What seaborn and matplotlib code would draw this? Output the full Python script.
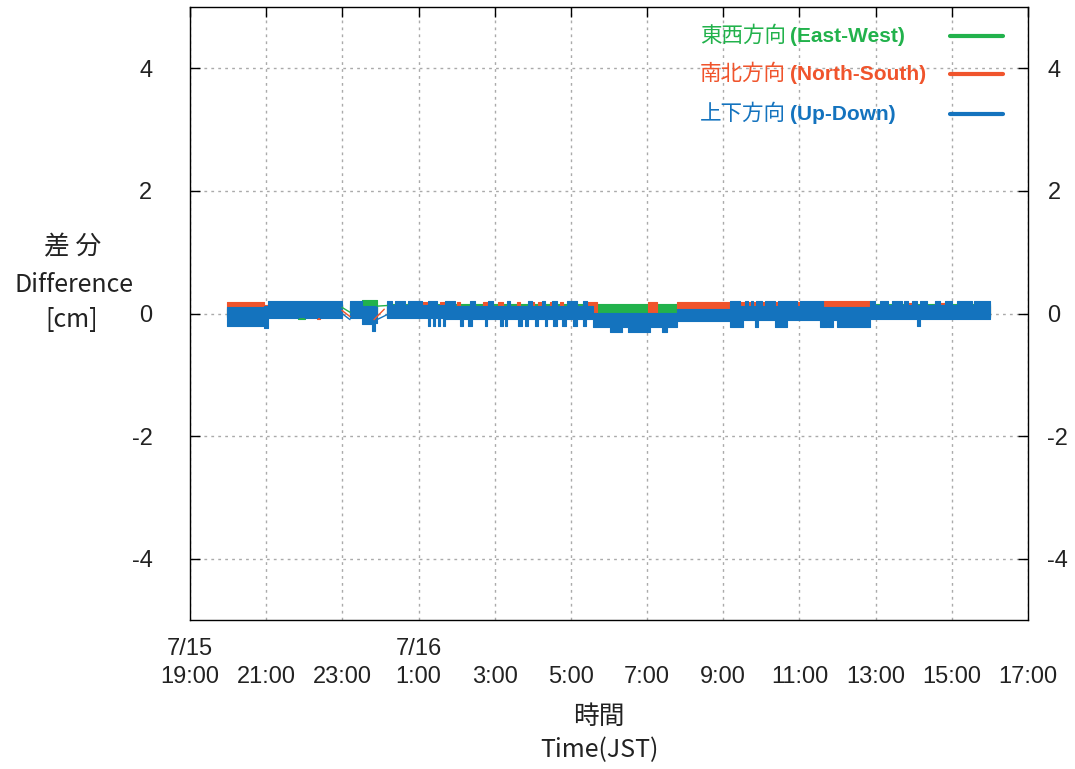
import numpy as np
import pandas as pd
import matplotlib
matplotlib.use("Agg")
import matplotlib.pyplot as plt
from matplotlib.lines import Line2D
import seaborn as sns

# ---------------- data (hours after 7/15 19:00 JST, cm) ----------------
nan = np.nan
series_names = ["東西方向", "南北方向", "上下方向"]
series_latin = ["(East-West)", "(North-South)", "(Up-Down)"]
colors = ["#22b24c", "#f0542c", "#1473be"]

x_ticks = [0, 2, 4, 6, 8, 10, 12, 14, 16, 18, 20, 22]
x_ticklabels = ["7/15\n19:00", "\n21:00", "\n23:00", "7/16\n1:00", "\n3:00", "\n5:00",
                "\n7:00", "\n9:00", "\n11:00", "\n13:00", "\n15:00", "\n17:00"]
y_ticks = [-4, -2, 0, 2, 4]

# Up-Down: upper envelope (step, post)
ud_top_t = [0.971, 1.943, 2.048, 3.990, 4.200, 4.515, 4.909, 5.171, 5.303, 5.381, 5.644, 5.723,
            6.090, 6.248, 6.484, 6.694, 6.956, 7.350, 7.481, 7.823, 7.954, 8.321, 8.400, 8.873,
            8.978, 9.240, 9.319, 9.503, 9.634, 9.896, 10.159, 10.316, 10.421, 10.579, 12.784,
            14.175, 14.438, 14.569, 14.648, 14.726, 14.779, 14.858, 15.015, 15.094, 15.356,
            15.435, 15.934, 16.013, 16.616, 17.850, 17.981, 18.113, 18.323, 18.428, 18.690,
            18.743, 18.848, 18.953, 19.084, 19.163, 19.346, 19.556, 19.688, 19.819, 20.003,
            20.134, 20.528, 20.580, 21.000]
ud_top_v = [0.10, 0.12, 0.20, nan, 0.21, 0.13, nan, 0.21, 0.14, 0.21, 0.14, 0.21,
            0.14, 0.21, 0.14, 0.21, 0.13, 0.21, 0.12, 0.21, 0.12, 0.21, 0.12, 0.21,
            0.12, 0.21, 0.12, 0.21, 0.12, 0.21, 0.12, 0.21, 0.12, 0.01, 0.08,
            0.21, 0.12, 0.21, 0.12, 0.21, 0.12, 0.21, 0.12, 0.21, 0.12,
            0.21, 0.12, 0.21, 0.10, 0.21, 0.14, 0.21, 0.14, 0.21, 0.14,
            0.21, 0.14, 0.21, 0.14, 0.21, 0.14, 0.21, 0.14, 0.21, 0.14,
            0.21, 0.14, 0.21, nan]
# Up-Down: lower envelope
ud_bot_t = [0.971, 1.943, 2.048, 2.835, 3.019, 3.334, 3.413, 3.990, 4.200, 4.515, 4.778, 4.856,
            4.909, 5.171, 6.248, 6.300, 6.379, 6.431, 6.510, 6.563, 6.641, 6.694, 7.088, 7.166,
            7.298, 7.403, 7.744, 7.796, 8.138, 8.216, 8.269, 8.321, 8.610, 8.715, 8.794, 8.873,
            9.056, 9.135, 9.319, 9.371, 9.529, 9.634, 9.765, 9.870, 10.054, 10.159, 10.316,
            10.395, 10.579, 11.025, 11.340, 11.498, 12.075, 12.390, 12.521, 12.784, 14.175,
            14.516, 14.831, 14.910, 15.356, 15.671, 16.538, 16.721, 16.748, 16.879, 16.984,
            17.719, 17.850, 19.084, 19.163, 21.000]
ud_bot_v = [-0.20, -0.23, -0.08, -0.05, -0.08, -0.05, -0.08, nan, -0.07, -0.17, -0.28, -0.16,
            nan, -0.08, -0.20, -0.08, -0.20, -0.08, -0.20, -0.08, -0.20, -0.09, -0.20, -0.09,
            -0.20, -0.09, -0.20, -0.09, -0.20, -0.09, -0.20, -0.09, -0.20, -0.09, -0.20, -0.09,
            -0.20, -0.09, -0.20, -0.09, -0.20, -0.09, -0.20, -0.09, -0.20, -0.09, -0.20,
            -0.09, -0.22, -0.30, -0.22, -0.30, -0.22, -0.30, -0.22, -0.13, -0.22,
            -0.11, -0.22, -0.11, -0.22, -0.11, -0.22, -0.11, -0.22, -0.11, -0.22,
            -0.22, -0.09, -0.20, -0.09, nan]

# East-West
ew_top_t = [0.971, 2.048, 3.990, 4.200, 4.515, 4.909, 5.171, 10.579, 12.023, 12.784, 17.850, 21.000]
ew_top_v = [0.08, 0.15, nan, 0.15, 0.22, nan, 0.15, 0.16, 0.15, 0.13, 0.16, nan]
ew_bot_t = [0.971, 2.835, 3.019, 3.990, 4.200, 4.909, 5.171, 21.000]
ew_bot_v = [-0.05, -0.09, -0.05, nan, -0.05, nan, -0.05, nan]

# North-South
ns_top_t = [0.971, 1.943, 2.048, 3.990, 4.200, 4.909, 5.171, 5.723, 5.775, 5.906, 5.985, 6.090,
            6.221, 6.353, 6.431, 6.563, 6.720, 7.009, 7.088, 7.691, 7.796, 8.085, 8.216, 8.584,
            8.663, 8.978, 9.030, 9.135, 9.214, 9.450, 9.529, 9.713, 9.791, 9.975, 10.054,
            10.395, 10.684, 12.023, 12.259, 12.784, 16.616, 17.850, 18.848, 18.953, 19.556,
            19.819, 21.000]
ns_top_v = [0.18, 0.14, 0.15, nan, 0.10, nan, 0.12, 0.19, 0.12, 0.19, 0.12, 0.19,
            0.12, 0.19, 0.12, 0.19, 0.12, 0.19, 0.12, 0.19, 0.12, 0.19, 0.12, 0.19,
            0.12, 0.19, 0.12, 0.19, 0.12, 0.19, 0.12, 0.19, 0.12, 0.19, 0.12,
            0.19, 0.00, 0.18, 0.00, 0.18, 0.20, 0.12, 0.17, 0.12, 0.17,
            0.12, nan]
ns_bot_t = [0.971, 3.334, 3.413, 3.990, 4.200, 4.909, 5.171, 21.000]
ns_bot_v = [-0.05, -0.09, -0.05, nan, -0.05, nan, -0.05, nan]

# thin connecting lines across the data gaps
ew_link_t = [3.990, 4.200, 4.909, 5.171]
ew_link_v = [0.10, 0.02, 0.12, 0.13]
ns_link_t = [3.990, 4.200, 4.830, 5.100]
ns_link_v = [0.05, -0.05, -0.10, 0.07]
ud_link_t = [3.990, 4.200, 4.909, 5.171]
ud_link_v = [0.00, -0.10, -0.10, -0.02]


def merge_env(top_t, top_v, bot_t, bot_v):
    t = np.union1d(top_t, bot_t)
    hi = np.asarray(top_v, float)[np.searchsorted(top_t, t, side="right") - 1]
    lo = np.asarray(bot_v, float)[np.searchsorted(bot_t, t, side="right") - 1]
    lo = np.where(np.isnan(hi), nan, lo)
    hi = np.where(np.isnan(lo), nan, hi)
    return t, hi, lo


def to_steps(t, v):
    return np.repeat(t, 2)[1:], np.repeat(v, 2)[:-1]


# ---------------- figure ----------------
sns.set_theme(style="white")
plt.rcParams["font.family"] = ["Noto Sans CJK JP", "DejaVu Sans"]
plt.rcParams["axes.unicode_minus"] = False

W, H = 1075, 769
fig = plt.figure(figsize=(W / 100, H / 100), dpi=100)
ax = fig.add_axes([190 / W, 1 - 620 / H, 838 / W, 613 / H])

envs = [(ew_top_t, ew_top_v, ew_bot_t, ew_bot_v),
        (ns_top_t, ns_top_v, ns_bot_t, ns_bot_v),
        (ud_top_t, ud_top_v, ud_bot_t, ud_bot_v)]
for i, (env, c) in enumerate(zip(envs, colors)):
    t, hi, lo = merge_env(*env)
    ts, his = to_steps(t, hi)
    _, los = to_steps(t, lo)
    ax.fill_between(ts, los, his, color=c, lw=0.8, edgecolor=c, zorder=3 + i)

rows = []
for name, lt, lv in zip(series_names, [ew_link_t, ns_link_t, ud_link_t],
                        [ew_link_v, ns_link_v, ud_link_v]):
    for k, (tt, vv) in enumerate(zip(lt, lv)):
        rows.append({"dir": name, "seg": k // 2, "t": tt, "v": vv})
links = pd.DataFrame(rows)
sns.lineplot(data=links, x="t", y="v", hue="dir", units="seg", estimator=None,
             palette=dict(zip(series_names, colors)), hue_order=series_names,
             lw=1, sort=False, legend=False, ax=ax, zorder=7)

ax.set_xlim(0, 22)
ax.set_ylim(-5, 5)
ax.set_xticks(x_ticks)
ax.set_xticklabels(x_ticklabels, family="Liberation Sans", fontsize=17, color="#222222",
                   linespacing=1.35)
ax.set_yticks(y_ticks)
ax.set_yticklabels([str(v) for v in y_ticks], family="Liberation Sans", fontsize=17,
                   color="#222222")
ax.set_xlabel("")
ax.set_ylabel("")
ax.grid(True, color="#aaaaaa", linestyle=(0, (2, 3)), lw=1)
ax.set_axisbelow(True)
ax.tick_params(axis="x", direction="in", length=7, width=1, color="black", top=True, pad=13)
ax.tick_params(axis="y", direction="in", length=7, width=1, color="black", right=False, pad=27)
for s in ax.spines.values():
    s.set_color("black")
    s.set_linewidth(1)

ax2 = ax.twinx()
ax2.set_ylim(-5, 5)
ax2.set_yticks(y_ticks)
ax2.set_yticklabels([str(v) for v in y_ticks], family="Liberation Sans", fontsize=17,
                    color="#222222")
ax2.tick_params(axis="y", direction="in", length=7, width=1, color="black", pad=14)
ax2.grid(False)
for s in ax2.spines.values():
    s.set_visible(False)

# axis titles
fig.text(73 / W, 1 - 247 / H, "差 分", ha="center", va="center", fontsize=18.5, color="#222222")
fig.text(74 / W, 1 - 285 / H, "Difference", ha="center", va="center", fontsize=18, color="#222222")
fig.text(72 / W, 1 - 320 / H, "[cm]", ha="center", va="center", fontsize=18, color="#222222")
fig.text(599 / W, 1 - 717 / H, "時間", ha="center", va="center", fontsize=18.5, color="#222222")
fig.text(599 / W, 1 - 750 / H, "Time(JST)", ha="center", va="center", fontsize=18, color="#222222")

# legend (text left, line sample right)
for name, latin, c, y in zip(series_names, series_latin, colors, [36, 74, 114]):
    fig.text(700 / W, 1 - y / H, name, ha="left", va="center", fontsize=15.5, color=c)
    fig.text(790 / W, 1 - y / H, latin, ha="left", va="center", fontsize=15,
             family="Liberation Sans", weight="bold", color=c)
    fig.add_artist(Line2D([950 / W, 1003 / W], [1 - y / H, 1 - y / H],
                          transform=fig.transFigure, color=c, lw=3))

fig.savefig("out.png", dpi=100)
